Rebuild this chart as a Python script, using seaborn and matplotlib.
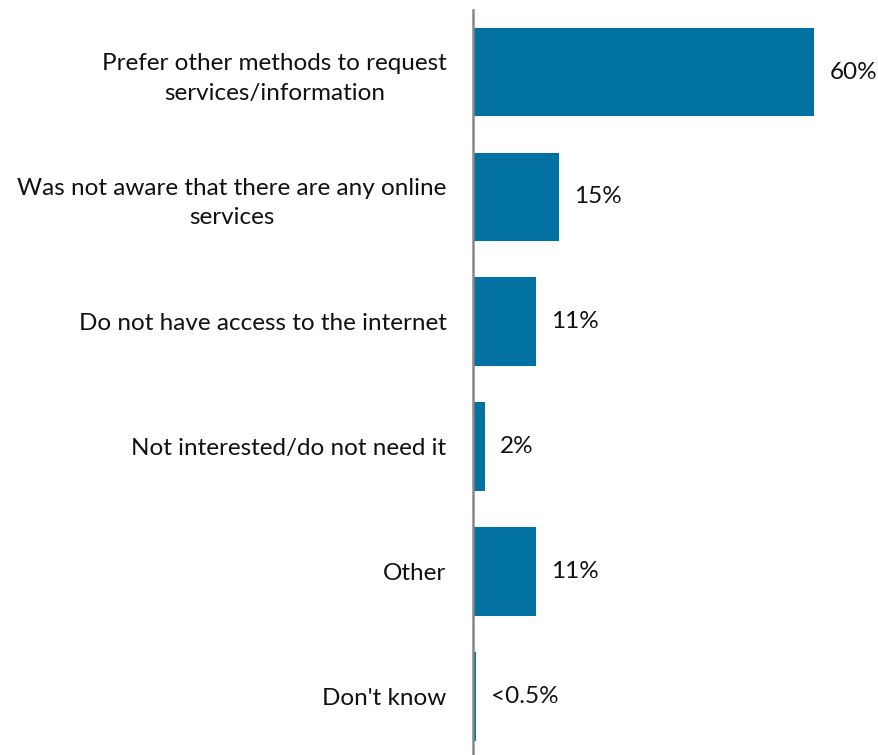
import matplotlib
matplotlib.use("Agg")
import matplotlib.pyplot as plt
import seaborn as sns
import pandas as pd

categories = [
    "Prefer other methods to request\nservices/information",
    "Was not aware that there are any online\nservices",
    "Do not have access to the internet",
    "Not interested/do not need it",
    "Other",
    "Don't know",
]
values = [60, 15, 11, 2, 11, 0.45]
value_labels = ["60%", "15%", "11%", "2%", "11%", "<0.5%"]

sns.set_theme(style="white")
plt.rcParams['font.family'] = ['Lato', 'DejaVu Sans']

df = pd.DataFrame({"cat": categories, "val": values})

fig = plt.figure(figsize=(8.79, 7.55), dpi=100)
ax = fig.add_axes([473 / 879, 0.0, (879 - 473) / 879, (755 - 10) / 755])

sns.barplot(data=df, y="cat", x="val", orient="h", color="#0071A1",
            saturation=1, width=0.71, ax=ax, zorder=3, linewidth=0,
            edgecolor="none")

ax.set_xlim(-0.1, 60 * 406 / 341)
ax.set_ylim(5.47, -0.497)
ax.set_xlabel("")
ax.set_ylabel("")
ax.set_xticks([])
for s in ["top", "right", "bottom"]:
    ax.spines[s].set_visible(False)
ax.spines["left"].set_color("#888888")
ax.spines["left"].set_linewidth(1.8)
ax.spines["left"].set_zorder(4)
ax.tick_params(axis="y", length=0, pad=19, labelsize=17.5, labelcolor="#111111")
for lab in ax.get_yticklabels():
    lab.set_horizontalalignment("right")
    lab.set_multialignment("center")
    lab.set_linespacing(1.5)

for i, (v, t) in enumerate(zip(values, value_labels)):
    ax.annotate(t, xy=(v, i), xytext=(11, 0), textcoords="offset points",
                va="center", ha="left", fontsize=17.5, color="#111111")

fig.savefig("out.png", dpi=100)
